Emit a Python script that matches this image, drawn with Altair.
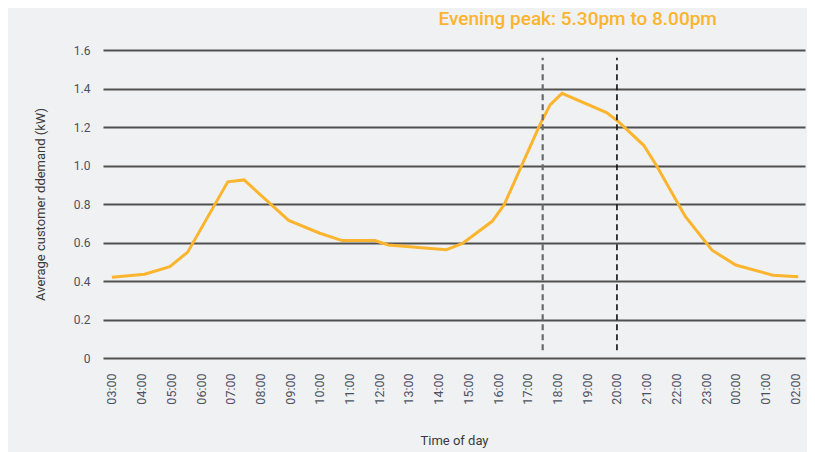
import altair as alt
import pandas as pd

# Hour of day (03:00 = 3 ... 02:00 next day = 26) and average demand (kW)
hours = [3.0, 4.1, 4.95, 5.55, 6.9, 7.45, 8.95, 10.0, 10.75, 11.85, 12.3, 14.25,
         14.8, 15.8, 16.2, 17.4, 17.75, 18.15, 19.65, 20.05, 20.9, 21.35, 22.3,
         23.2, 24.0, 25.25, 26.1]
demand = [0.42, 0.435, 0.475, 0.55, 0.915, 0.925, 0.715, 0.648, 0.61, 0.61, 0.587,
          0.562, 0.595, 0.71, 0.795, 1.21, 1.315, 1.375, 1.275, 1.228, 1.105, 0.995,
          0.735, 0.56, 0.483, 0.43, 0.422]

tick_hours = list(range(3, 27))
y_ticks = [0, 0.2, 0.4, 0.6, 0.8, 1.0, 1.2, 1.4, 1.6]
peak_start = 17.5
peak_end = 20.0
peak_label = "Evening peak: 5.30pm to 8.00pm"

FONT = "Roboto, Liberation Sans Narrow, sans-serif"
ORANGE = "#fbb42d"

df = pd.DataFrame({"hour": hours, "demand": demand})

xscale = alt.Scale(domain=[2.7, 26.33], nice=False, zero=False)
yscale = alt.Scale(domain=[0, 1.6], nice=False)

xaxis = alt.Axis(values=tick_hours, title="Time of day",
                 labelExpr="(datum.value % 24 < 10 ? '0' : '') + (datum.value % 24) + ':00'",
                 labelAngle=270, labelAlign="right", labelBaseline="middle",
                 labelOverlap=False, labelFlush=False,
                 labelPadding=15, tickSize=0, domain=False, grid=False,
                 labelFontSize=12.5, labelColor="#4d5060", labelFont=FONT,
                 titleFont=FONT, titleFontSize=13, titleFontWeight="normal",
                 titleColor="#3a3a3a", titlePadding=30)
yaxis = alt.Axis(values=y_ticks, title="Average customer ddemand (kW)",
                 labelExpr="datum.value == 0 ? '0' : format(datum.value, '.1f')",
                 labelOverlap=False, labelFlush=False,
                 labelPadding=13, tickSize=0, domain=False, grid=True,
                 gridColor="#505050", gridWidth=2,
                 labelFontSize=12, labelColor="#4d5060", labelFont=FONT,
                 titleFont=FONT, titleFontSize=13, titleFontWeight="normal",
                 titleColor="#3a3a3a", titlePadding=26)

line = alt.Chart(df).mark_line(color=ORANGE, strokeWidth=3).encode(
    x=alt.X("hour:Q", scale=xscale, axis=xaxis),
    y=alt.Y("demand:Q", scale=yscale, axis=yaxis),
)

rule_df = pd.DataFrame({"x": [peak_start, peak_end], "y": [0.04, 0.04], "y2": [1.56, 1.56],
                        "c": ["#6a6a6a", "#111111"], "w": [2.2, 1.6]})
rules = alt.Chart(rule_df).mark_rule(strokeDash=[6, 4]).encode(
    x=alt.X("x:Q", scale=xscale, axis=xaxis),
    y=alt.Y("y:Q", scale=yscale, axis=yaxis), y2="y2:Q",
    color=alt.Color("c:N", scale=None),
    strokeWidth=alt.StrokeWidth("w:Q", scale=None),
)

label_df = pd.DataFrame({"x": [18.68], "t": [peak_label]})
label = alt.Chart(label_df).mark_text(
    color=ORANGE, font=FONT, fontSize=19, fontWeight=500, align="center", baseline="middle"
).encode(x=alt.X("x:Q", scale=xscale, axis=xaxis), y=alt.value(-31), text="t:N")

chart = alt.layer(line, rules, label).properties(
    width=702, height=308,
    background="#f0f1f3",
    padding={"left": 95, "top": 42, "right": 2, "bottom": 94},
    autosize=alt.AutoSizeParams(type="none"),
).configure_view(stroke=None)

chart.save("out.html", embed_options={"renderer": "svg", "actions": False})
